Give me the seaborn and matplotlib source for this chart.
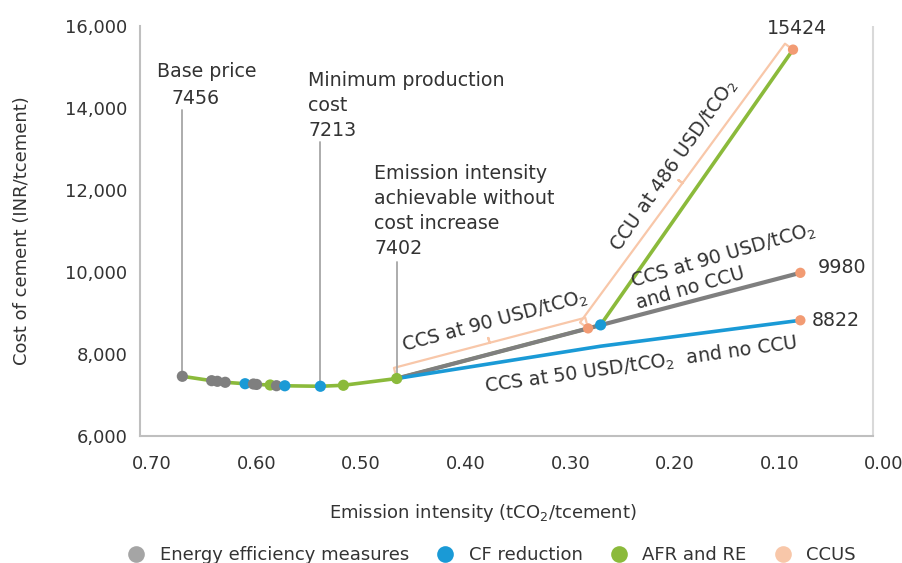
import numpy as np
import pandas as pd
import matplotlib
matplotlib.use('Agg')
import matplotlib.pyplot as plt
from matplotlib.lines import Line2D
import seaborn as sns

# values
ee_x = [0.671, 0.643, 0.6375, 0.630, 0.603, 0.600, 0.581]
ee_y = [7456, 7349, 7334, 7310, 7268, 7258, 7227]
cf_x = [0.611, 0.573, 0.539]
cf_y = [7275, 7225, 7213]
afr_x = [0.587, 0.517, 0.466]
afr_y = [7244, 7237, 7402]

# pathways after the no-cost-increase point
ccs50_x = [0.466, 0.271, 0.08]
ccs50_y = [7402, 8190, 8822]
ccs90_x = [0.466, 0.08]
ccs90_y = [7402, 9980]
ccu_x = [0.466, 0.283, 0.271, 0.087]
ccu_y = [7402, 8625, 8710, 15424]
ccus_pt_x = [0.283, 0.087, 0.08, 0.08]
ccus_pt_y = [8625, 15424, 9980, 8822]
cf_pt_x = [0.271]
cf_pt_y = [8710]

x_ticks = [0.70, 0.60, 0.50, 0.40, 0.30, 0.20, 0.10, 0.00]
y_ticks = [6000, 8000, 10000, 12000, 14000, 16000]

groups = ['Energy efficiency measures', 'CF reduction', 'AFR and RE', 'CCUS']

grey_c = '#7F7F7F'
blue_c = '#1A9AD6'
green_c = '#8BBA3B'
orange_c = '#F29B73'
peach_c = '#F8C7A9'
text_c = '#333333'

sns.set_theme(style='white')
plt.rcParams['font.family'] = ['DejaVu Sans']
plt.rcParams['mathtext.fontset'] = 'dejavusans'

fig = plt.figure(figsize=(9.02, 5.63), dpi=100)
ax = fig.add_axes([140/902, 1 - 436/563, 744/902, 410/563])

# curve points
curve = pd.DataFrame({
    'x': ee_x + cf_x + afr_x,
    'y': ee_y + cf_y + afr_y,
    'group': [groups[0]]*len(ee_x) + [groups[1]]*len(cf_x) + [groups[2]]*len(afr_x),
}).sort_values('x', ascending=False)

sns.lineplot(data=curve, x='x', y='y', sort=False, estimator=None, color=green_c, lw=2.6, ax=ax, zorder=2)

# pathway lines
sns.lineplot(x=ccu_x, y=ccu_y, sort=False, estimator=None, color=green_c, lw=2.6, ax=ax, zorder=2)
sns.lineplot(x=ccs90_x, y=ccs90_y, sort=False, estimator=None, color=grey_c, lw=3, ax=ax, zorder=3)
sns.lineplot(x=ccs50_x, y=ccs50_y, sort=False, estimator=None, color=blue_c, lw=2.6, ax=ax, zorder=3)

pal = {groups[0]: grey_c, groups[1]: blue_c, groups[2]: green_c, groups[3]: orange_c}
sns.scatterplot(data=curve, x='x', y='y', hue='group', palette=pal, s=65, edgecolor='none',
                legend=False, ax=ax, zorder=5)
sns.scatterplot(x=ccus_pt_x, y=ccus_pt_y, color=orange_c, s=55, edgecolor='none', ax=ax, zorder=5)
sns.scatterplot(x=cf_pt_x, y=cf_pt_y, color=blue_c, s=65, edgecolor='none', ax=ax, zorder=5)

ax.set_xlim(0.7115, 0.0)
ax.set_ylim(6000, 16000)
ax.set_xticks(x_ticks)
ax.set_xticklabels([f'{v:.2f}' for v in x_ticks])
ax.set_yticks(y_ticks)
ax.set_yticklabels([f'{v:,}' for v in y_ticks])
ax.tick_params(axis='both', length=0, labelsize=13, labelcolor=text_c)
ax.tick_params(axis='x', pad=14)
ax.tick_params(axis='y', pad=9)

for s in ['top', 'right']:
    ax.spines[s].set_visible(False)
for s in ['left', 'bottom']:
    ax.spines[s].set_color('#BFBFBF')
    ax.spines[s].set_linewidth(1.5)
ax.spines['bottom'].set_bounds(0.7115, 0.0105)
ax.axvline(0.0105, color='#D9D9D9', lw=1.5, zorder=0)

ax.set_xlabel('Emission intensity (tCO$_2$/tcement)', fontsize=13, color=text_c)
ax.set_ylabel('Cost of cement (INR/tcement)', fontsize=13, color=text_c)
ax.xaxis.set_label_coords(0.461, -0.16)
ax.yaxis.set_label_coords(-0.146, 0.5)


def bracket(p0, p1, off, tick, color):
    a = ax.transData.transform(p0)
    b = ax.transData.transform(p1)
    d = (b - a) / np.hypot(*(b - a))
    n = np.array([-d[1], d[0]])
    a1 = a + n*off
    b1 = b + n*off
    m = (a1 + b1) / 2
    pts = np.array([a1 - n*tick, a1, m, m + n*tick, m, b1, b1 - n*tick])
    pts = ax.transData.inverted().transform(pts)
    ax.plot(pts[:, 0], pts[:, 1], color=color, lw=1.6, zorder=1)


bracket((afr_x[-1], afr_y[-1]), (ccus_pt_x[0], ccus_pt_y[0]), 11, 5, peach_c)
bracket((ccus_pt_x[0], ccus_pt_y[0]), (ccus_pt_x[1], ccus_pt_y[1]), 10, 5, peach_c)

# callout lines
ax.plot([ee_x[0], ee_x[0]], [ee_y[0], 13950], color='#A6A6A6', lw=1.3, zorder=1)
ax.plot([cf_x[2], cf_x[2]], [cf_y[2], 13170], color='#A6A6A6', lw=1.3, zorder=1)
ax.plot([afr_x[2], afr_x[2]], [afr_y[2], 10240], color='#A6A6A6', lw=1.3, zorder=1)

fs = 13.7
ax.text(0.6952, 14880, 'Base price', fontsize=fs, color=text_c, va='center', ha='left')
ax.text(0.6809, 14240, '7456', fontsize=fs, color=text_c, va='center', ha='left')
ax.text(0.5508, 14060, 'Minimum production\ncost\n7213', fontsize=fs, color=text_c,
        va='center', ha='left', linespacing=1.4)
ax.text(0.4877, 11490, 'Emission intensity\nachievable without\ncost increase\n7402', fontsize=fs,
        color=text_c, va='center', ha='left', linespacing=1.4)

ax.text(0.372, 8780, 'CCS at 90 USD/tCO$_2$', fontsize=fs, color=text_c, rotation=15,
        ha='center', va='center', rotation_mode='anchor')
ax.text(0.2008, 12585, 'CCU at 486 USD/tCO$_2$', fontsize=fs, color=text_c, rotation=55,
        ha='center', va='center', rotation_mode='anchor')
ax.text(0.151, 10146, 'CCS at 90 USD/tCO$_2$\nand no CCU', fontsize=fs, color=text_c, rotation=16,
        ha='center', va='center', multialignment='left', rotation_mode='anchor', linespacing=1.1)
ax.text(0.2324, 7732, 'CCS at 50 USD/tCO$_2$  and no CCU', fontsize=fs, color=text_c, rotation=8,
        ha='center', va='center', rotation_mode='anchor')

ax.text(0.0832, 15927, '15424', fontsize=fs, color=text_c, ha='center', va='center')
ax.text(0.0631, 10098, '9980', fontsize=fs, color=text_c, ha='left', va='center')
ax.text(0.0689, 8805, '8822', fontsize=fs, color=text_c, ha='left', va='center')

handles = [Line2D([], [], marker='o', ls='', markersize=12, markeredgewidth=0, color=c)
           for c in ['#A5A5A5', blue_c, green_c, peach_c]]
fig.legend(handles, groups, loc='center', bbox_to_anchor=(0.54, 0.014), ncol=4, frameon=False,
           fontsize=13, handletextpad=0.3, columnspacing=1.0, labelcolor=text_c)

fig.savefig('out.png', dpi=100)
